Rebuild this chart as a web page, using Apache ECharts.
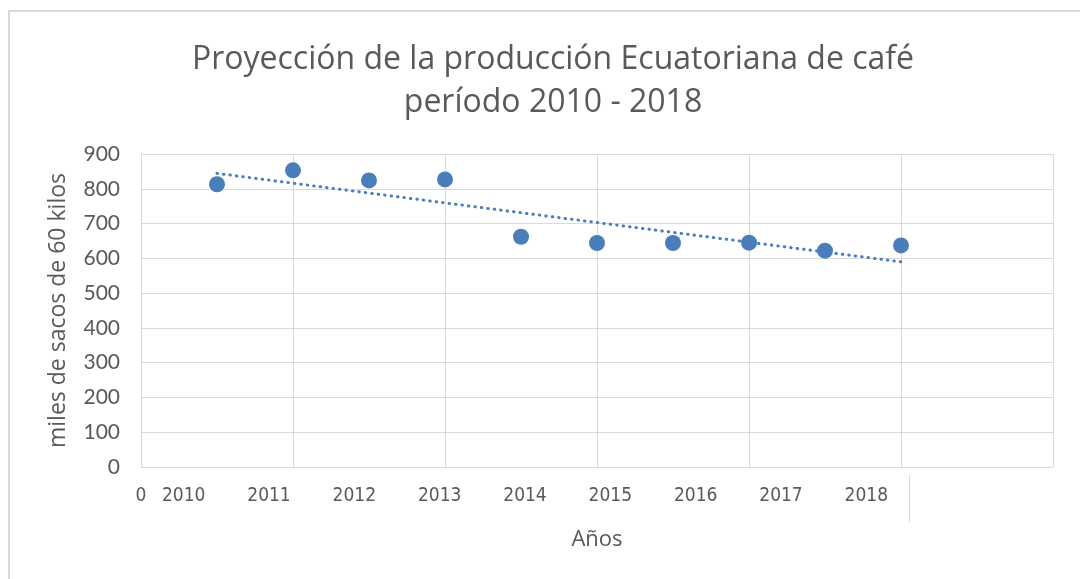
<!DOCTYPE html>
<html>
<head>
<meta charset="utf-8">
<script src="https://cdn.jsdelivr.net/npm/echarts@6/dist/echarts.min.js"></script>
<style>
  html, body { margin: 0; padding: 0; background: #fff; }
  #chart { width: 1080px; height: 579px; }
</style>
</head>
<body>
<div id="chart"></div>
<script>
// datos
const titleText = 'Proyección de la producción Ecuatoriana de café\nperíodo 2010 - 2018';
const yName = 'miles de sacos de 60 kilos';
const xName = 'Años';
const pointX = [1, 2, 3, 4, 5, 6, 7, 8, 9, 10];
const produccion = [813, 853, 824, 827, 662, 644, 644, 645, 622, 637];
const yearLabels = ['2010', '2011', '2012', '2013', '2014', '2015', '2016', '2017', '2018'];
const startLabel = '0';

const gray = '#595959';
const blue = '#4a7ebb';
const gridColor = '#d9d9d9';

// línea de tendencia lineal (mínimos cuadrados)
function linearFit(xs, ys) {
  const n = xs.length;
  const mx = xs.reduce((a, b) => a + b, 0) / n;
  const my = ys.reduce((a, b) => a + b, 0) / n;
  let sxy = 0, sxx = 0;
  for (let i = 0; i < n; i++) {
    sxy += (xs[i] - mx) * (ys[i] - my);
    sxx += (xs[i] - mx) * (xs[i] - mx);
  }
  const slope = sxy / sxx;
  return x => my + slope * (x - mx);
}
const fit = linearFit(pointX, produccion);
const first = pointX[0], last = pointX[pointX.length - 1];
const trend = [[first, fit(first)], [last, fit(last)]];

const chart = echarts.init(document.getElementById('chart'));

const option = {
  backgroundColor: '#fff',
  animation: false,
  title: {
    text: titleText,
    left: 548,
    top: 33,
    textAlign: 'center',
    textStyle: {
      fontFamily: 'Open Sans',
      fontSize: 32,
      fontWeight: 'normal',
      color: gray,
      lineHeight: 43
    }
  },
  graphic: [{
    type: 'rect',
    shape: { x: 9, y: 11, width: 1200, height: 700 },
    style: { fill: 'none', stroke: gridColor, lineWidth: 2 },
    silent: true
  }],
  grid: [
    { left: 141, right: 27, top: 154, bottom: 112 },
    { left: 141, right: 171, top: 475, bottom: 57 }
  ],
  xAxis: [
    {
      type: 'value',
      gridIndex: 0,
      min: 0,
      max: 12,
      interval: 2,
      name: xName,
      nameLocation: 'middle',
      nameGap: 62,
      nameTextStyle: { fontFamily: 'Open Sans', fontSize: 22, color: gray },
      axisLine: { show: true, lineStyle: { color: gridColor, width: 1 } },
      axisTick: { show: false },
      axisLabel: { show: false },
      splitLine: { show: true, lineStyle: { color: gridColor, width: 1 } }
    },
    {
      type: 'value',
      gridIndex: 1,
      position: 'top',
      min: 0,
      max: yearLabels.length,
      axisLine: { show: false },
      axisTick: { show: false },
      splitLine: { show: false },
      axisLabel: {
        inside: true,
        margin: 12,
        customValues: [0].concat(yearLabels.map((_, i) => i + 0.5)),
        formatter: v => v === 0 ? startLabel : yearLabels[Math.floor(v)],
        fontFamily: "'DejaVu Sans Condensed', 'Liberation Sans Narrow', 'Roboto Condensed', Roboto",
        fontSize: 19,
        color: gray
      }
    }
  ],
  yAxis: [
    {
      type: 'value',
      gridIndex: 0,
      min: 0,
      max: 900,
      interval: 100,
      name: yName,
      nameLocation: 'middle',
      nameGap: 71,
      nameTextStyle: { fontFamily: 'Open Sans', fontSize: 23, color: gray },
      axisLine: { show: false },
      axisTick: { show: false },
      axisLabel: { margin: 21, fontFamily: 'Lato', fontSize: 21, color: gray },
      splitLine: { show: true, lineStyle: { color: gridColor, width: 1 } }
    },
    {
      type: 'value',
      gridIndex: 1,
      position: 'right',
      axisLine: { show: true, onZero: false, lineStyle: { color: gridColor, width: 1 } },
      axisTick: { show: false },
      axisLabel: { show: false },
      splitLine: { show: false }
    }
  ],
  series: [
    {
      type: 'line',
      name: 'tendencia',
      xAxisIndex: 0,
      yAxisIndex: 0,
      data: trend,
      symbol: 'none',
      lineStyle: { color: blue, width: 3, type: [0.5, 6], cap: 'round' },
      z: 2
    },
    {
      type: 'scatter',
      name: 'producción',
      xAxisIndex: 0,
      yAxisIndex: 0,
      data: pointX.map((x, i) => [x, produccion[i]]),
      symbolSize: 16,
      itemStyle: { color: blue, opacity: 1 },
      z: 3
    }
  ]
};

chart.setOption(option);
</script>
</body>
</html>
